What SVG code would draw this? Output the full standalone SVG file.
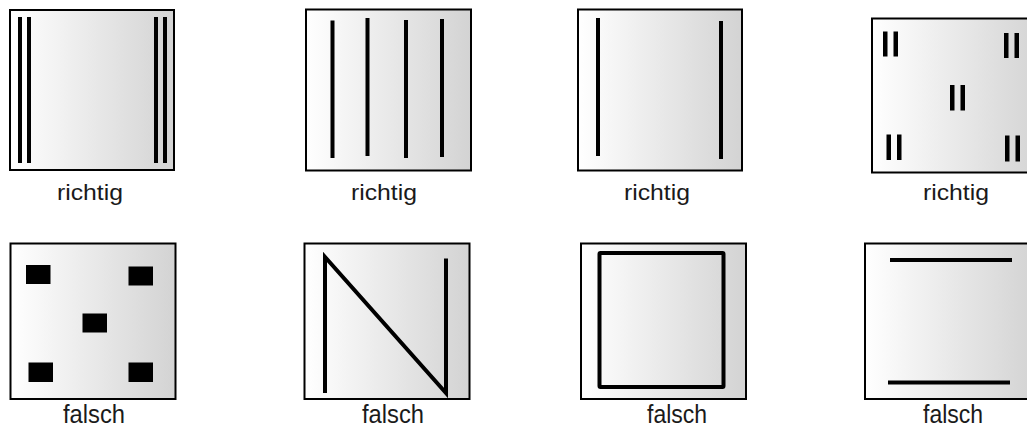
<svg xmlns="http://www.w3.org/2000/svg" width="1027" height="426" viewBox="0 0 1027 426">
<defs>
<linearGradient id="g" x1="0" y1="0" x2="1" y2="0">
<stop offset="0" stop-color="#ffffff"/>
<stop offset="1" stop-color="#d3d3d3"/>
</linearGradient>
</defs>
<style>
.box{fill:url(#g);stroke:#000;stroke-width:2}
.bar{stroke:#000;stroke-width:4;fill:none}
.blk{fill:#000}
.lbl{font-family:"Liberation Sans",Arial,sans-serif;fill:#1a1a1a;text-anchor:middle}
.r{font-size:22px}
.f{font-size:25px}
</style>
<rect width="1027" height="426" fill="#fff"/>
<g id="p1">
<rect class="box" x="10" y="10" width="164" height="160"/>
<line class="bar" x1="20" y1="17" x2="20" y2="163"/>
<line class="bar" x1="29" y1="17" x2="29" y2="163"/>
<line class="bar" x1="156" y1="17" x2="156" y2="163"/>
<line class="bar" x1="165" y1="17" x2="165" y2="163"/>
<text class="lbl r" x="90" y="200" textLength="66" lengthAdjust="spacingAndGlyphs">richtig</text>
</g>
<g id="p2">
<rect class="box" x="306" y="9.5" width="165" height="161"/>
<line class="bar" x1="332.5" y1="20.5" x2="332.5" y2="158"/>
<line class="bar" x1="367.5" y1="18" x2="367.5" y2="156"/>
<line class="bar" x1="406" y1="20" x2="406" y2="158"/>
<line class="bar" x1="442" y1="19" x2="442" y2="157"/>
<text class="lbl r" x="384" y="200" textLength="66" lengthAdjust="spacingAndGlyphs">richtig</text>
</g>
<g id="p3">
<rect class="box" x="578" y="9.5" width="164" height="161"/>
<line class="bar" x1="598" y1="18" x2="598" y2="156"/>
<line class="bar" x1="721" y1="21" x2="721" y2="159"/>
<text class="lbl r" x="657" y="200" textLength="66" lengthAdjust="spacingAndGlyphs">richtig</text>
</g>
<g id="p4">
<rect class="box" x="872" y="18.5" width="170" height="154"/>
<rect class="blk" x="883" y="31.5" width="4.5" height="25"/><rect class="blk" x="893.5" y="31.5" width="4.5" height="25"/>
<rect class="blk" x="1004" y="33" width="4.5" height="25"/><rect class="blk" x="1014.5" y="33" width="4.5" height="25"/>
<rect class="blk" x="950" y="85" width="4.5" height="25.5"/><rect class="blk" x="960.5" y="85" width="4.5" height="25.5"/>
<rect class="blk" x="886.5" y="134.5" width="4.5" height="25.5"/><rect class="blk" x="897" y="134.5" width="4.5" height="25.5"/>
<rect class="blk" x="1005" y="135.5" width="4.5" height="26"/><rect class="blk" x="1015.5" y="135.5" width="4.5" height="26"/>
<text class="lbl r" x="956" y="200" textLength="66" lengthAdjust="spacingAndGlyphs">richtig</text>
</g>
<g id="p5">
<rect class="box" x="10.5" y="243.5" width="165" height="155.5"/>
<rect class="blk" x="26" y="265" width="24.5" height="19"/>
<rect class="blk" x="128.5" y="266.5" width="24.5" height="19"/>
<rect class="blk" x="82.5" y="313.5" width="24.5" height="19"/>
<rect class="blk" x="28.5" y="362.5" width="24.5" height="19.5"/>
<rect class="blk" x="128.5" y="362.5" width="24.5" height="19.5"/>
<text class="lbl f" x="94" y="423" textLength="62" lengthAdjust="spacingAndGlyphs">falsch</text>
</g>
<g id="p6">
<rect class="box" x="304.5" y="243.5" width="165" height="155.5"/>
<polyline class="bar" points="325,393 325,257 446,393 446,258.5" stroke-linejoin="miter"/>
<text class="lbl f" x="393" y="423" textLength="62" lengthAdjust="spacingAndGlyphs">falsch</text>
</g>
<g id="p7">
<rect class="box" x="581" y="243.5" width="165" height="155.5"/>
<rect class="bar" x="599.5" y="253" width="124" height="134" rx="1"/>
<text class="lbl f" x="677" y="423" textLength="60" lengthAdjust="spacingAndGlyphs">falsch</text>
</g>
<g id="p8">
<rect class="box" x="865" y="243.5" width="170" height="155.5"/>
<line class="bar" x1="890" y1="260" x2="1012" y2="260"/>
<line class="bar" x1="888" y1="382.5" x2="1010" y2="382.5"/>
<text class="lbl f" x="953" y="423" textLength="60" lengthAdjust="spacingAndGlyphs">falsch</text>
</g>
<g id="connectors"/>
</svg>
